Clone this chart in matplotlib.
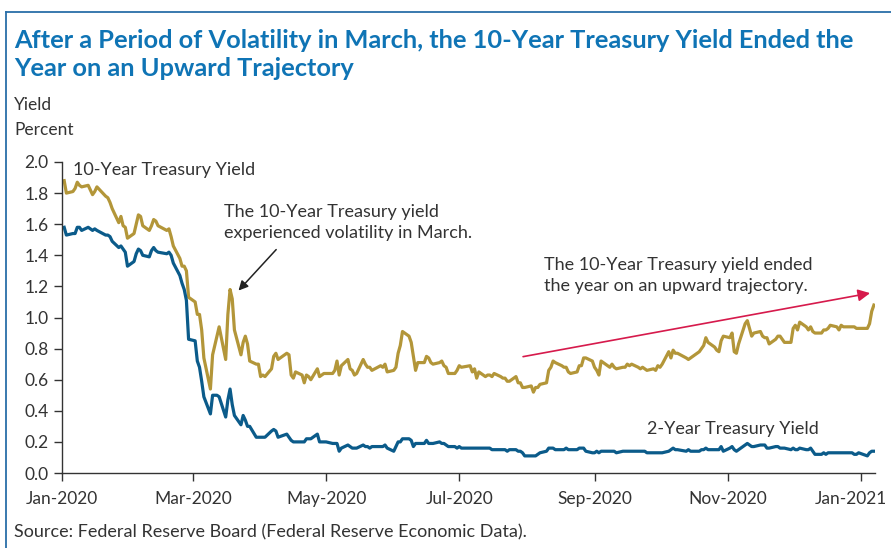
import matplotlib
matplotlib.use("Agg")
import matplotlib.pyplot as plt
import matplotlib.dates as mdates
import matplotlib.transforms as mtransforms
import pandas as pd

# Daily yields (percent), business days Jan 2, 2020 -> Jan 7, 2021 #
holidays = ["2020-01-20", "2020-02-17", "2020-04-10", "2020-05-25", "2020-07-03",
            "2020-09-07", "2020-10-12", "2020-11-11", "2020-11-26", "2020-12-25",
            "2021-01-01"]

ten_year = [
    # Jan
    1.88, 1.80, 1.81, 1.83, 1.87, 1.85, 1.84, 1.85, 1.82, 1.79, 1.81, 1.84, 1.78, 1.77,
    1.74, 1.70, 1.61, 1.65, 1.59, 1.58, 1.51,
    # Feb
    1.54, 1.60, 1.66, 1.65, 1.59, 1.56, 1.59, 1.63, 1.62, 1.59, 1.56, 1.57, 1.52, 1.46,
    1.38, 1.33, 1.33, 1.30, 1.13,
    # Mar
    1.10, 1.02, 1.02, 0.92, 0.74, 0.54, 0.76, 0.82, 0.88, 0.94, 0.73, 1.02, 1.18, 1.12,
    0.92, 0.76, 0.84, 0.88, 0.83, 0.72, 0.70, 0.70,
    # Apr
    0.62, 0.63, 0.62, 0.67, 0.75, 0.77, 0.73, 0.77, 0.76, 0.63, 0.61, 0.65, 0.63, 0.58,
    0.63, 0.62, 0.60, 0.67, 0.62, 0.63, 0.64,
    # May
    0.64, 0.64, 0.66, 0.72, 0.63, 0.69, 0.73, 0.67, 0.66, 0.63, 0.64, 0.73, 0.70, 0.68,
    0.68, 0.66, 0.69, 0.68, 0.70, 0.65,
    # Jun
    0.66, 0.68, 0.77, 0.82, 0.91, 0.88, 0.84, 0.75, 0.66, 0.71, 0.71, 0.75, 0.74, 0.71,
    0.70, 0.71, 0.72, 0.69, 0.68, 0.64, 0.64, 0.66,
    # Jul
    0.69, 0.68, 0.69, 0.65, 0.67, 0.61, 0.65, 0.62, 0.63, 0.63, 0.62, 0.64, 0.62, 0.61,
    0.61, 0.59, 0.59, 0.62, 0.58, 0.58, 0.55, 0.55,
    # Aug
    0.56, 0.52, 0.55, 0.55, 0.57, 0.58, 0.66, 0.68, 0.72, 0.71, 0.69, 0.68, 0.68, 0.65,
    0.64, 0.65, 0.69, 0.69, 0.74, 0.74, 0.72,
    # Sep
    0.68, 0.66, 0.63, 0.72, 0.68, 0.70, 0.68, 0.67, 0.68, 0.68, 0.70, 0.69, 0.70, 0.68,
    0.67, 0.68, 0.67, 0.66, 0.67, 0.66, 0.69,
    # Oct
    0.68, 0.70, 0.78, 0.74, 0.79, 0.77, 0.77, 0.74, 0.73, 0.74, 0.75, 0.78, 0.80, 0.82,
    0.87, 0.84, 0.81, 0.79, 0.78, 0.85, 0.88,
    # Nov
    0.87, 0.90, 0.78, 0.77, 0.83, 0.96, 0.98, 0.88, 0.90, 0.91, 0.88, 0.87, 0.87, 0.83,
    0.86, 0.88, 0.88, 0.84, 0.84,
    # Dec
    0.93, 0.95, 0.92, 0.97, 0.94, 0.92, 0.94, 0.91, 0.90, 0.90, 0.92, 0.92, 0.93, 0.95,
    0.94, 0.92, 0.95, 0.94, 0.94, 0.94, 0.93, 0.93,
    # Jan 2021
    0.93, 0.96, 1.04, 1.08,
]

two_year = [
    # Jan
    1.58, 1.53, 1.54, 1.54, 1.58, 1.58, 1.56, 1.58, 1.57, 1.56, 1.57, 1.56, 1.53, 1.53,
    1.52, 1.49, 1.45, 1.46, 1.44, 1.42, 1.33,
    # Feb
    1.36, 1.41, 1.44, 1.43, 1.40, 1.39, 1.43, 1.45, 1.43, 1.42, 1.41, 1.42, 1.40, 1.35,
    1.27, 1.22, 1.18, 1.11, 0.86,
    # Mar
    0.85, 0.72, 0.68, 0.59, 0.49, 0.38, 0.50, 0.50, 0.50, 0.49, 0.36, 0.47, 0.54, 0.44,
    0.37, 0.31, 0.37, 0.34, 0.30, 0.30, 0.23, 0.23,
    # Apr
    0.23, 0.23, 0.23, 0.27, 0.28, 0.27, 0.23, 0.25, 0.23, 0.21, 0.20, 0.20, 0.20, 0.20,
    0.22, 0.22, 0.22, 0.25, 0.20, 0.20, 0.20,
    # May
    0.20, 0.19, 0.19, 0.19, 0.14, 0.16, 0.18, 0.17, 0.16, 0.16, 0.16, 0.18, 0.17, 0.17,
    0.16, 0.17, 0.17, 0.17, 0.18, 0.16,
    # Jun
    0.14, 0.17, 0.20, 0.20, 0.22, 0.22, 0.21, 0.17, 0.19, 0.19, 0.19, 0.21, 0.19, 0.19,
    0.19, 0.20, 0.19, 0.19, 0.18, 0.17, 0.17, 0.16,
    # Jul
    0.17, 0.16, 0.16, 0.16, 0.16, 0.16, 0.16, 0.16, 0.16, 0.16, 0.15, 0.15, 0.15, 0.15,
    0.15, 0.14, 0.15, 0.15, 0.14, 0.14, 0.13, 0.11,
    # Aug
    0.11, 0.11, 0.11, 0.12, 0.13, 0.14, 0.16, 0.16, 0.16, 0.15, 0.15, 0.15, 0.16, 0.15,
    0.15, 0.15, 0.16, 0.16, 0.16, 0.14, 0.13,
    # Sep
    0.13, 0.14, 0.13, 0.14, 0.14, 0.14, 0.14, 0.13, 0.14, 0.14, 0.14, 0.14, 0.14, 0.14,
    0.14, 0.14, 0.14, 0.13, 0.13, 0.13, 0.13,
    # Oct
    0.13, 0.13, 0.14, 0.15, 0.16, 0.15, 0.15, 0.14, 0.15, 0.14, 0.14, 0.14, 0.15, 0.15,
    0.16, 0.15, 0.15, 0.15, 0.15, 0.17, 0.14,
    # Nov
    0.16, 0.17, 0.15, 0.14, 0.15, 0.18, 0.19, 0.17, 0.17, 0.18, 0.18, 0.18, 0.16, 0.16,
    0.17, 0.17, 0.16, 0.16, 0.15,
    # Dec
    0.16, 0.15, 0.15, 0.16, 0.15, 0.15, 0.16, 0.14, 0.12, 0.12, 0.13, 0.12, 0.13, 0.13,
    0.13, 0.13, 0.13, 0.13, 0.13, 0.12, 0.12, 0.13,
    # Jan 2021
    0.11, 0.13, 0.14, 0.14,
]

dates = pd.bdate_range("2020-01-02", "2021-01-07")
dates = dates[~dates.isin(pd.to_datetime(holidays))]

gold  = "#b39639"
navy  = "#0b5b8a"
red   = "#d61a4c"
text  = "#333333"
title = "#0f74b5"

plt.rcParams["font.family"] = ["Lato", "DejaVu Sans"]

fig = plt.figure(figsize=(8.91, 5.48), dpi=100)
ax = fig.add_axes([62/891, 75/548, 813/891, 311/548])

ax.plot(dates, ten_year, "-", color=gold, lw=2.3)
ax.plot(dates, two_year, "-", color=navy, lw=2.3)

ax.set_ylim(0, 2.0)
ax.set_yticks([0.0, 0.2, 0.4, 0.6, 0.8, 1.0, 1.2, 1.4, 1.6, 1.8, 2.0])
ax.yaxis.set_major_formatter(plt.FormatStrFormatter("%.1f"))
ax.set_xlim(pd.Timestamp("2020-01-01"), pd.Timestamp("2021-01-07 12:00"))
ax.xaxis.set_major_locator(mdates.MonthLocator(bymonth=[1, 3, 5, 7, 9, 11]))
ax.xaxis.set_major_formatter(mdates.DateFormatter("%b-%Y"))

for s in ["top", "right"]:
    ax.spines[s].set_visible(False)
for s in ["left", "bottom"]:
    ax.spines[s].set_color(text)
    ax.spines[s].set_linewidth(1.0)
ax.tick_params(axis="both", colors=text, labelsize=12.5, length=6, width=1.0)
ax.tick_params(axis="x", pad=7)

# last date label is pulled left so it stays inside the picture
fig.canvas.draw()
last = ax.get_xticklabels()[-1]
last.set_transform(last.get_transform() + mtransforms.ScaledTranslation(-10/100, 0, fig.dpi_scale_trans))

# labels on the lines
ax.text(pd.Timestamp("2020-01-06"), 1.95, "10-Year Treasury Yield", fontsize=13,
        color=text, va="center")
ax.text(pd.Timestamp("2020-09-25"), 0.28, "2-Year Treasury Yield", fontsize=13,
        color=text, va="center")

ax.text(pd.Timestamp("2020-03-15"), 1.73, "The 10-Year Treasury yield\nexperienced volatility in March.",
        fontsize=13, color=text, va="top", linespacing=1.4)
ax.annotate("", xy=(pd.Timestamp("2020-03-21"), 1.16), xytext=(pd.Timestamp("2020-04-09"), 1.45),
            arrowprops=dict(arrowstyle="-|>", color="#222222", lw=1.1, mutation_scale=14))

ax.text(pd.Timestamp("2020-08-09"), 1.39, "The 10-Year Treasury yield ended\nthe year on an upward trajectory.",
        fontsize=13, color=text, va="top", linespacing=1.4)
ax.annotate("", xy=(pd.Timestamp("2021-01-06 12:00"), 1.16), xytext=(pd.Timestamp("2020-07-29"), 0.745),
            arrowprops=dict(arrowstyle="-|>", color=red, lw=1.2, mutation_scale=18))

# title, axis caption and source
fig.text(14/891, 1 - 40/548, "After a Period of Volatility in March, the 10-Year Treasury Yield Ended the",
         fontsize=18.3, fontweight="bold", color=title, va="center")
fig.text(14/891, 1 - 69/548, "Year on an Upward Trajectory",
         fontsize=18.3, fontweight="bold", color=title, va="center")
fig.text(14/891, 1 - 105/548, "Yield", fontsize=12.5, color=text, va="center")
fig.text(14/891, 1 - 130/548, "Percent", fontsize=12.5, color=text, va="center")
fig.text(14/891, 1 - 532/548, "Source: Federal Reserve Board (Federal Reserve Economic Data).",
         fontsize=13, color=text, va="center")

# frame lines on top and left
fig.add_artist(plt.Line2D([6/891, 1], [1 - 12/548, 1 - 12/548], color="#2a6ea8", lw=1.3))
fig.add_artist(plt.Line2D([6/891, 6/891], [0, 1 - 12/548], color="#2a6ea8", lw=1.3))

fig.savefig("out.png", dpi=100)
